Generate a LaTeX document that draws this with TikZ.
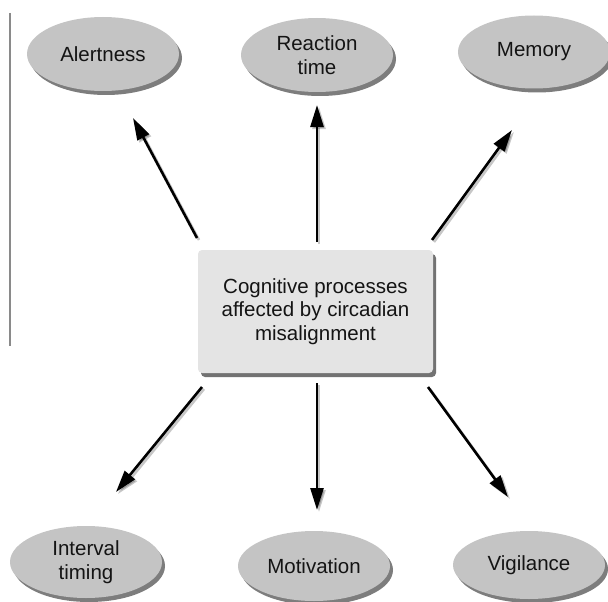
\documentclass[tikz,border=0pt]{standalone}
\usepackage{fontspec}
\setmainfont{Liberation Sans}
\usetikzlibrary{shapes.geometric,shadows,arrows.meta}
\definecolor{ellfill}{HTML}{C4C4C4}
\definecolor{boxfill}{HTML}{E4E4E4}
\definecolor{sidebar}{HTML}{8A8A8A}
\definecolor{txt}{HTML}{141414}
\tikzset{
  bubble/.style={ellipse, fill=ellfill, inner sep=0pt, minimum width=152pt, minimum height=74pt,
    align=center, text=txt, font=\fontsize{20.5}{24.5}\selectfont,
    drop shadow={shadow xshift=3pt, shadow yshift=-4pt, opacity=0.6, fill=black!85}},
  mainbox/.style={rectangle, rounded corners=4pt, fill=boxfill, minimum width=235pt, minimum height=123pt,
    align=center, text=txt, font=\fontsize{20.5}{23.5}\selectfont,
    drop shadow={shadow xshift=3pt, shadow yshift=-4pt, opacity=0.65, fill=black!85}},
  link/.style={line width=2.6pt, -{Triangle[length=22pt,width=13pt]}},
  linkshadow/.style={line width=2.6pt, draw=black, opacity=0.22, -{Triangle[length=22pt,width=13pt]}}
}
\begin{document}
\begin{tikzpicture}[x=1pt,y=-1pt]
\useasboundingbox (0,0) rectangle (608,602);
% side bar
\coordinate (barTop) at (10,13);
\coordinate (barBot) at (10,346);
\draw[sidebar, line width=1.6pt] (barTop) -- (barBot);

% nodes
\node[bubble] (alert) at (103,54) {Alertness};
\node[bubble] (react) at (317,55) {Reaction\\time};
\node[bubble, minimum height=73pt] (mem) at (534,52) {Memory};
\node[mainbox] (center) at (315.5,311.5) {Cognitive processes\\affected by circadian\\misalignment};
\node[bubble, minimum height=72pt] (interval) at (86,562) {Interval\\timing};
\node[bubble, minimum height=70pt] (motiv) at (314,566) {Motivation};
\node[bubble, minimum height=68pt] (vigil) at (529,565) {Vigilance};

% arrow end points
\coordinate (a1s) at (197,238); \coordinate (a1e) at (133,118);
\coordinate (a2s) at (317,242); \coordinate (a2e) at (317,105);
\coordinate (a3s) at (432,240); \coordinate (a3e) at (512,130);
\coordinate (b1s) at (202,387); \coordinate (b1e) at (116,492);
\coordinate (b2s) at (317,383); \coordinate (b2e) at (317,510);
\coordinate (b3s) at (428,387); \coordinate (b3e) at (508,497);

% shadows of arrows
\foreach \s/\e in {a1s/a1e,a2s/a2e,a3s/a3e,b1s/b1e,b2s/b2e,b3s/b3e}{
  \draw[linkshadow, transform canvas={xshift=2pt,yshift=-2pt}] (\s) -- (\e);
}
% arrows
\foreach \s/\e in {a1s/a1e,a2s/a2e,a3s/a3e,b1s/b1e,b2s/b2e,b3s/b3e}{
  \draw[link] (\s) -- (\e);
}
\end{tikzpicture}
\end{document}
